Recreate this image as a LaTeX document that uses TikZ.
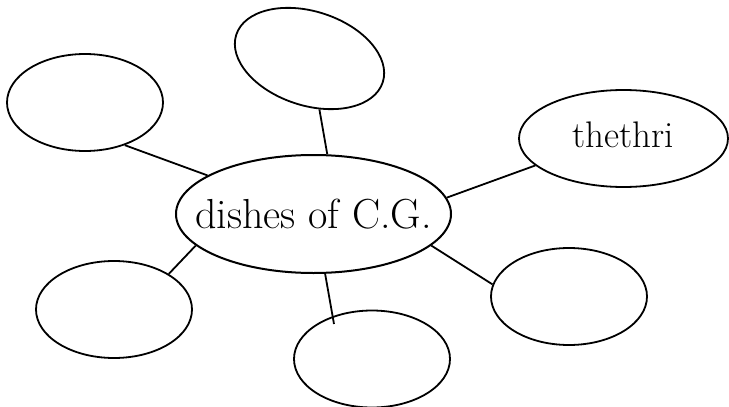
\documentclass[tikz,border=0pt]{standalone}
\usetikzlibrary{shapes.geometric}
\begin{document}
\begin{tikzpicture}[x=1pt,y=-1pt,
  bubble/.style={draw,ellipse,inner sep=0pt,line width=1.8pt,minimum width=156pt,minimum height=97pt},
  txt/.style={font=\fontsize{38}{42}\selectfont},
  link/.style={line width=1.8pt}]
\useasboundingbox (0,0) rectangle (729,407);
\node[bubble,line width=2pt,minimum width=275pt,minimum height=118pt,
  label={[txt,font=\fontsize{42}{46}\selectfont]center:dishes of C.G.}] (c) at (313.5,214) {};
\node[bubble] (tl) at (85,102.5) {};
\node[bubble,rotate=-18,minimum width=154pt,minimum height=94pt] (t) at (309.5,58.5) {};
\node[bubble,minimum width=209pt,label={[txt,font=\fontsize{37}{41}\selectfont,yshift=4pt]center:thethri}] (r) at (623.5,138.5) {};
\node[bubble] (bl) at (114,309.5) {};
\node[bubble] (b) at (372,359) {};
\node[bubble] (br) at (569,296.5) {};
\coordinate (bend) at (334,324);
\draw[link] (tl.-47) -- (c.160);
\draw[link] (t.-61) -- (c.77);
\draw[link] (c.7) -- (r.-163);
\draw[link] (c.195) -- (bl.33);
\draw[link] (c.-79) -- (bend);
\draw[link] (c.-15) -- (br.171);
\end{tikzpicture}
\end{document}
